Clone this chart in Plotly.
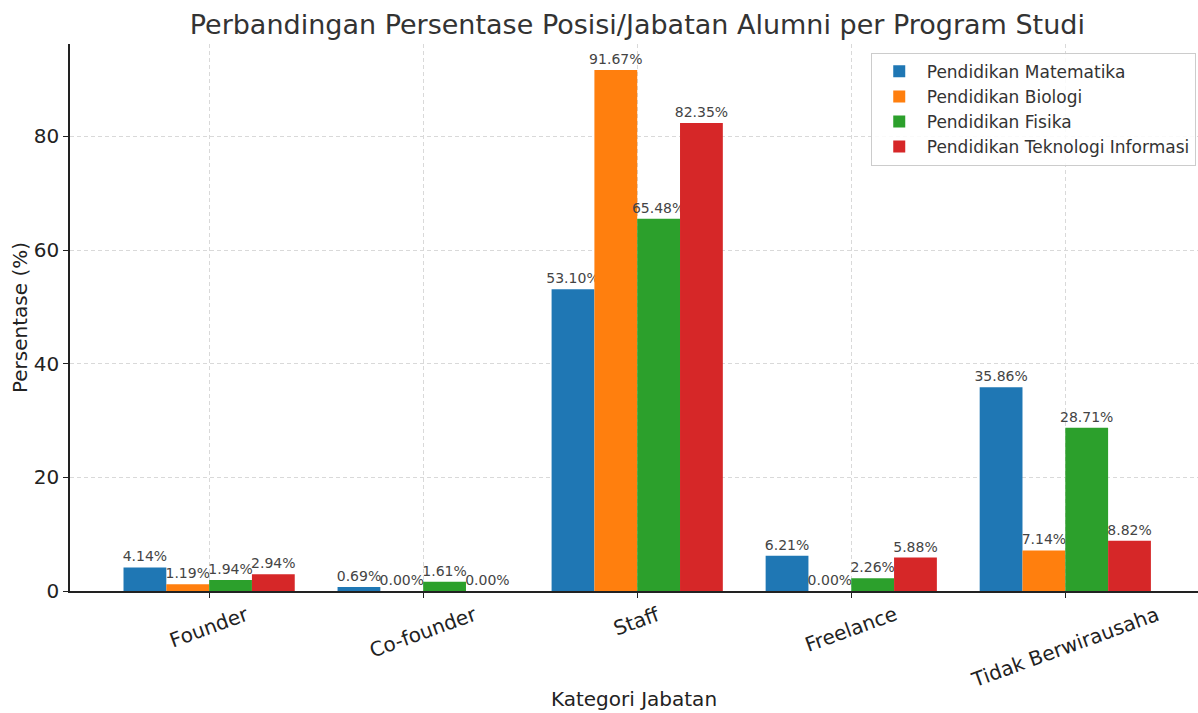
import plotly.graph_objects as go

categories = ["Founder", "Co-founder", "Staff", "Freelance", "Tidak Berwirausaha"]
programs = [
    "Pendidikan Matematika",
    "Pendidikan Biologi",
    "Pendidikan Fisika",
    "Pendidikan Teknologi Informasi",
]
matematika = [4.14, 0.69, 53.10, 6.21, 35.86]
biologi = [1.19, 0.00, 91.67, 0.00, 7.14]
fisika = [1.94, 1.61, 65.48, 2.26, 28.71]
teknologi_informasi = [2.94, 0.00, 82.35, 5.88, 8.82]
colors = ["#1f77b4", "#ff7f0e", "#2ca02c", "#d62728"]

FONT = "DejaVu Sans"

fig = go.Figure()
for name, vals, col in zip(programs, [matematika, biologi, fisika, teknologi_informasi], colors):
    fig.add_trace(go.Bar(
        x=categories,
        y=vals,
        name=name,
        marker=dict(color=col, line=dict(width=0)),
        text=[f"{v:.2f}%" for v in vals],
        textposition="outside",
        constraintext="none",
        cliponaxis=False,
        textfont=dict(family=FONT, size=14, color="#444444"),
    ))

# rotated category labels centred under each group (matplotlib style)
for c in categories:
    fig.add_annotation(
        x=c, xref="x", y=-0.015, yref="paper",
        text=c, showarrow=False, textangle=-20,
        xanchor="center", yanchor="top",
        font=dict(family=FONT, size=20, color="#222222"),
    )

fig.update_layout(
    width=1198, height=713,
    barmode="group", bargap=0.2, bargroupgap=0,
    paper_bgcolor="white", plot_bgcolor="white",
    font=dict(family=FONT, color="#222222"),
    title=dict(
        text="Perbandingan Persentase Posisi/Jabatan Alumni per Program Studi",
        x=0.532, xanchor="center", y=0.965, yanchor="middle",
        font=dict(family=FONT, size=27, color="#333333"),
    ),
    margin=dict(l=70, r=0, t=44, b=122),
    legend=dict(
        x=0.998, xanchor="right", y=0.984, yanchor="top",
        bgcolor="rgba(255,255,255,0.85)", bordercolor="#cccccc", borderwidth=1,
        font=dict(family=FONT, size=17, color="#333333"),
        tracegroupgap=0, itemwidth=45,
    ),
)
fig.update_xaxes(
    range=[-0.65, 4.62],
    showticklabels=False,
    ticks="outside", ticklen=5, tickcolor="#222222",
    showline=True, linecolor="#222222", linewidth=1.5,
    showgrid=True, gridcolor="#d9d9d9", griddash="4px,3px", gridwidth=1,
    title=dict(text="Kategori Jabatan", standoff=95, font=dict(family=FONT, size=20)),
)
fig.update_yaxes(
    range=[0, 96.25],
    tickvals=[0, 20, 40, 60, 80],
    ticks="outside", ticklen=5, tickcolor="#222222",
    tickfont=dict(family=FONT, size=20, color="#222222"),
    showline=True, linecolor="#222222", linewidth=1.5,
    showgrid=True, gridcolor="#d9d9d9", griddash="4px,3px", gridwidth=1,
    zeroline=False,
    title=dict(text="Persentase (%)", standoff=1, font=dict(family=FONT, size=20)),
)

# drop the default page margin so the figure sits flush in the window
fig.write_html(
    "out.html",
    config={"displayModeBar": False},
    post_script="document.body.style.margin='0';",
)
